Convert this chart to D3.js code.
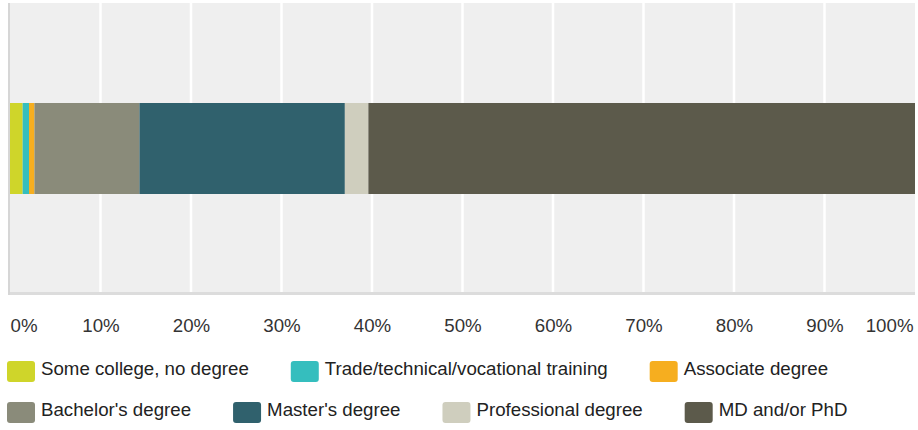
<!DOCTYPE html>
<html>
<head>
<meta charset="utf-8">
<script src="https://cdn.jsdelivr.net/npm/d3@7"></script>
<style>
  html, body { margin: 0; padding: 0; background: #ffffff; }
  svg { display: block; }
  text { font-family: "Liberation Sans", Arial, Helvetica, sans-serif; }
</style>
</head>
<body>
<svg id="chart" width="918" height="430"></svg>
<script>
// Highest level of education – share of respondents (%)
const categories = [
  "Some college, no degree",
  "Trade/technical/vocational training",
  "Associate degree",
  "Bachelor's degree",
  "Master's degree",
  "Professional degree",
  "MD and/or PhD"
];
const values = [1.4, 0.7, 0.6, 11.6, 22.7, 2.6, 60.4];
const colors = ["#cfd52a", "#35bebe", "#f6ae1f", "#8a8b7a", "#30616d", "#cfcebe", "#5c5a4b"];
const tickValues = [0, 10, 20, 30, 40, 50, 60, 70, 80, 90, 100];
const rowLabel = ["All"];

const svg = d3.select("#chart");
const W = 918;
const plot = { left: 10, right: 915, top: 3, bottom: 292 };
const fontSize = "18.7px";

const x = d3.scaleLinear().domain([0, 100]).range([plot.left, plot.right]);
const y = d3.scaleBand().domain(rowLabel).range([plot.top + 1, plot.bottom + 1])
  .paddingInner(0.5).paddingOuter(0.544);

// plot background
svg.append("rect")
  .attr("x", plot.left).attr("y", plot.top)
  .attr("width", plot.right - plot.left).attr("height", plot.bottom - plot.top)
  .attr("fill", "#efefef");

// vertical gridlines
svg.append("g").selectAll("line")
  .data(tickValues.filter(t => t > 0 && t < 100))
  .join("line")
  .attr("x1", d => x(d)).attr("x2", d => x(d))
  .attr("y1", plot.top).attr("y2", plot.bottom)
  .attr("stroke", "#ffffff").attr("stroke-width", 2.5);

// stacked bar
const row = { key: rowLabel[0] };
categories.forEach((c, i) => { row[c] = values[i]; });
const series = d3.stack().keys(categories)([row]);

svg.append("g").selectAll("rect")
  .data(series)
  .join("rect")
  .attr("x", d => x(d[0][0]))
  .attr("y", y(rowLabel[0]))
  .attr("width", d => x(d[0][1]) - x(d[0][0]))
  .attr("height", y.bandwidth())
  .attr("fill", (d, i) => colors[i]);

// axis lines
svg.append("rect").attr("x", plot.left).attr("y", plot.bottom)
  .attr("width", plot.right - plot.left).attr("height", 3).attr("fill", "#dcdcdc");
svg.append("rect").attr("x", plot.left - 2).attr("y", plot.top)
  .attr("width", 2).attr("height", plot.bottom - plot.top + 3).attr("fill", "#d6d6d6");

// x axis labels
const axis = d3.axisBottom(x).tickValues(tickValues).tickFormat(d => d + "%").tickSize(0).tickPadding(0);
const gx = svg.append("g").attr("transform", `translate(0,${plot.bottom})`).call(axis);
gx.select(".domain").remove();
gx.selectAll("text")
  .attr("dy", null)
  .attr("y", 40)
  .attr("fill", "#333333")
  .style("font-size", fontSize)
  .style("font-family", "'Liberation Sans', Arial, sans-serif");
gx.selectAll(".tick").filter(d => d === 0).select("text").attr("text-anchor", "start");
gx.selectAll(".tick").filter(d => d === 100).select("text").attr("text-anchor", "end").attr("x", -2);

// legend (flow layout)
const legend = svg.append("g");
const sw = 28, sh = 21, textGap = 34, itemGap = 42;
let lx = 7, ly = 361;
categories.forEach((c, i) => {
  const g = legend.append("g");
  g.append("rect").attr("width", sw).attr("height", sh).attr("rx", 3).attr("fill", colors[i]);
  const t = g.append("text").attr("x", textGap).attr("y", 14)
    .attr("fill", "#222222").style("font-size", fontSize).text(c);
  const w = textGap + t.node().getComputedTextLength();
  if (lx + w > W && lx > 7) { lx = 7; ly += 41; }
  g.attr("transform", `translate(${lx},${ly})`);
  lx += w + itemGap;
});
</script>
</body>
</html>
